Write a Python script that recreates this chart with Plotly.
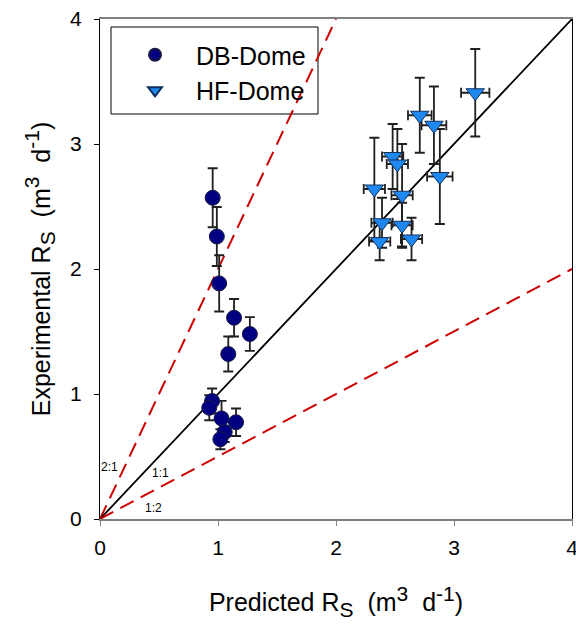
import plotly.graph_objects as go

# DB-Dome data
db_pred = [0.955, 0.99, 1.01, 1.136, 1.27, 1.087, 0.95, 0.926, 1.03, 1.153, 1.057, 1.02]
db_exp = [2.57, 2.26, 1.885, 1.61, 1.48, 1.32, 0.944, 0.89, 0.805, 0.774, 0.696, 0.638]
db_err = [0.236, 0.236, 0.225, 0.15, 0.135, 0.14, 0.10, 0.10, 0.14, 0.11, 0.08, 0.08]

# HF-Dome data
hf_pred = [3.18, 2.71, 2.83, 2.48, 2.52, 2.88, 2.325, 2.56, 2.39, 2.56, 2.37, 2.64]
hf_exp = [3.41, 3.23, 3.15, 2.90, 2.84, 2.74, 2.64, 2.59, 2.37, 2.35, 2.22, 2.24]
hf_err_y = [0.35, 0.30, 0.31, 0.26, 0.28, 0.38, 0.41, 0.41, 0.20, 0.18, 0.15, 0.17]
hf_err_x = [0.12, 0.10, 0.105, 0.09, 0.09, 0.108, 0.09, 0.09, 0.09, 0.09, 0.09, 0.09]

# reference lines
ratios = [2.0, 1.0, 0.5]
ratio_labels = ["2:1", "1:1", "1:2"]
axis_max = 4
tick_vals = [0, 1, 2, 3, 4]

FONT = "Arial, Liberation Sans, sans-serif"
SS = "<span style='font-size:21px'>{}</span>"
SP = "\u00a0"


def axis_title(word):
    return (word + " R<sub>" + SS.format("S") + "</sub>" + SP + " (m<sup>" + SS.format("3")
            + "</sup>" + SP + " d<sup>" + SS.format("-1") + "</sup>)")


fig = go.Figure()

for r in ratios:
    xe = axis_max / r if r > 1 else axis_max
    fig.add_trace(go.Scatter(
        x=[0, xe], y=[0, r * xe], mode="lines", showlegend=False, hoverinfo="skip",
        line=dict(color="black" if r == 1 else "#CC0000", width=1.8 if r == 1 else 2,
                  dash="solid" if r == 1 else "15px,8px"),
    ))

fig.add_trace(go.Scatter(
    x=db_pred, y=db_exp, mode="markers", name="DB-Dome",
    marker=dict(symbol="circle", size=15, color="#000080", line=dict(color="#1a1a40", width=1)),
    error_y=dict(type="data", array=db_err, color="#202020", thickness=1.8, width=5),
))
fig.add_trace(go.Scatter(
    x=hf_pred, y=hf_exp, mode="markers", name="HF-Dome",
    marker=dict(symbol="triangle-down", size=16, color="#1E88F0", line=dict(color="#10305a", width=1)),
    error_y=dict(type="data", array=hf_err_y, color="#202020", thickness=1.8, width=5),
    error_x=dict(type="data", array=hf_err_x, color="#202020", thickness=1.8, width=5),
))

annots = [
    dict(x=0.08, y=0.42, text=ratio_labels[0]),
    dict(x=0.51, y=0.37, text=ratio_labels[1]),
    dict(x=0.45, y=0.09, text=ratio_labels[2]),
]
for a in annots:
    fig.add_annotation(x=a["x"], y=a["y"], text=a["text"], xref="x", yref="y",
                       showarrow=False, font=dict(size=12, color="black", family=FONT))

# legend box
fig.add_shape(type="rect", xref="paper", yref="paper",
              x0=(111 - 100) / 472, x1=(318 - 100) / 472,
              y0=(519 - 114) / 500, y1=(519 - 27) / 500,
              line=dict(color="black", width=1), fillcolor="white", layer="below")

fig.update_layout(
    width=576, height=628,
    margin=dict(l=100, r=4, t=19, b=109, autoexpand=False),
    paper_bgcolor="white", plot_bgcolor="white",
    font=dict(family=FONT, color="black", size=20),
    legend=dict(x=(114 - 100) / 472, y=(519 - 32) / 500, xanchor="left", yanchor="top",
                bgcolor="rgba(0,0,0,0)", borderwidth=0, itemwidth=72, itemsizing="constant",
                font=dict(size=25, family=FONT), tracegroupgap=0),
    xaxis=dict(range=[0, axis_max], tickvals=tick_vals, ticks="outside", ticklen=5,
               tickcolor="#808080", showline=True, linecolor="#808080", linewidth=1.5,
               mirror=True, showgrid=False, zeroline=False, ticklabeloverflow="allow",
               automargin=False, tickfont=dict(size=21), ticklabelstandoff=4,
               title=dict(text=axis_title("Predicted"), font=dict(size=25), standoff=36)),
    yaxis=dict(range=[0, axis_max], tickvals=tick_vals, ticks="outside", ticklen=5,
               tickcolor="black", showline=True, linecolor="black", linewidth=1.2,
               mirror=True, showgrid=False, zeroline=False, ticklabeloverflow="allow",
               automargin=False, tickfont=dict(size=21), ticklabelstandoff=8,
               title=dict(text=axis_title("Experimental"), font=dict(size=25), standoff=12)),
)

fig.write_html("out.html")
